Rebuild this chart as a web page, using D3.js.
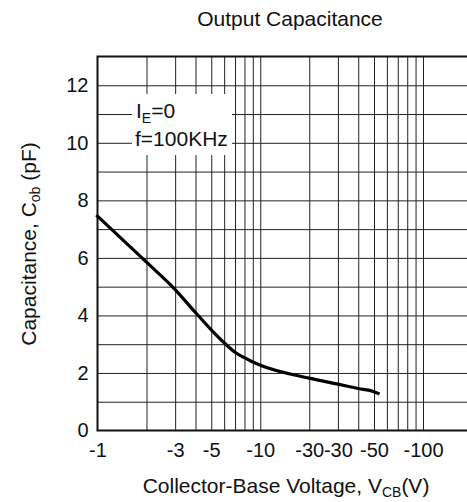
<!DOCTYPE html>
<html>
<head>
<meta charset="utf-8">
<script src="https://cdn.jsdelivr.net/npm/d3@7"></script>
<style>
  html, body { margin: 0; padding: 0; background: #fff; overflow: hidden; }
  svg { display: block; font-family: "Liberation Sans", Arial, sans-serif; }
</style>
</head>
<body>
<svg id="chart"></svg>
<script>
// curve (V_CB magnitude, C_ob in pF)
const voltage = [1, 2, 3, 4, 5, 6, 7, 8, 9, 10, 20, 30, 40, 50, 53];
const capacitance = [7.45, 5.85, 4.9, 4.1, 3.5, 3.05, 2.72, 2.53, 2.38, 2.27, 1.82, 1.61, 1.46, 1.35, 1.29];

const xTickValues = [1, 3, 5, 10, 20, 30, 50, 100];
const xTickLabels = ["-1", "-3", "-5", "-10", "-30", "-30", "-50", "-100"];
const xGridValues = [2, 3, 4, 5, 6, 7, 8, 9, 10, 20, 30, 40, 50, 60, 70, 80, 90, 100, 200];
const yTickValues = [0, 2, 4, 6, 8, 10, 12];
const yGridValues = [1, 2, 3, 4, 5, 6, 7, 8, 9, 10, 11, 12];

const width = 467, height = 502;
const plotLeft = 97.5, plotTop = 56.5, plotBottom = 430.5, plotRight = 480;

const svg = d3.select("#chart")
              .attr("width", width)
              .attr("height", height);

const x = d3.scaleLog()
            .domain([1, 100])
            .range([plotLeft, 423]);

const y = d3.scaleLinear()
            .domain([0, 13])
            .range([plotBottom, plotTop]);

// grid
svg.append("g")
   .attr("transform", `translate(0,${plotBottom})`)
   .call(d3.axisBottom(x).tickValues(xGridValues).tickSize(-(plotBottom - plotTop)).tickFormat(""))
   .call(g => g.select(".domain").remove())
   .call(g => g.selectAll("line").attr("stroke", "#222").attr("stroke-width", 1));

svg.append("g")
   .attr("transform", `translate(${plotLeft},0)`)
   .call(d3.axisLeft(y).tickValues(yGridValues).tickSize(-(plotRight - plotLeft)).tickFormat(""))
   .call(g => g.select(".domain").remove())
   .call(g => g.selectAll("line").attr("stroke", "#222").attr("stroke-width", 1));

// frame
svg.append("rect")
   .attr("x", plotLeft)
   .attr("y", plotTop)
   .attr("width", plotRight - plotLeft)
   .attr("height", plotBottom - plotTop)
   .attr("fill", "none")
   .attr("stroke", "#111")
   .attr("stroke-width", 2);

// note box over the grid
svg.append("rect")
   .attr("x", 132)
   .attr("y", 94)
   .attr("width", 100)
   .attr("height", 61)
   .attr("fill", "white");

const note1 = svg.append("text")
   .attr("x", 136)
   .attr("y", 117.5)
   .attr("font-size", 21)
   .attr("fill", "#111");
note1.append("tspan").text("I");
note1.append("tspan").attr("font-size", 14).attr("dy", 5).text("E");
note1.append("tspan").attr("dy", -5).text("=0");

svg.append("text")
   .attr("x", 135)
   .attr("y", 145.5)
   .attr("font-size", 21)
   .attr("fill", "#111")
   .text("f=100KHz");

// curve
const line = d3.line()
               .x((d, i) => x(voltage[i]))
               .y(d => y(d))
               .curve(d3.curveMonotoneX);

svg.append("path")
   .datum(capacitance)
   .attr("d", line)
   .attr("fill", "none")
   .attr("stroke", "#000")
   .attr("stroke-width", 3.2)
   .attr("stroke-linecap", "square");

// tick labels
svg.append("g")
   .attr("transform", `translate(0,${plotBottom})`)
   .call(d3.axisBottom(x).tickValues(xTickValues).tickSize(0).tickPadding(12)
           .tickFormat((d, i) => xTickLabels[i]))
   .call(g => g.select(".domain").remove())
   .call(g => g.selectAll("text").attr("font-size", 20).attr("font-family", null).attr("fill", "#111"));

svg.append("g")
   .attr("transform", `translate(${plotLeft},0)`)
   .call(d3.axisLeft(y).tickValues(yTickValues).tickSize(0).tickPadding(9))
   .call(g => g.select(".domain").remove())
   .call(g => g.selectAll("text").attr("font-size", 20).attr("font-family", null).attr("fill", "#111"));

// titles
svg.append("text")
   .attr("x", 290)
   .attr("y", 26)
   .attr("text-anchor", "middle")
   .attr("font-size", 21)
   .attr("fill", "#111")
   .text("Output Capacitance");

const xTitle = svg.append("text")
   .attr("x", 286)
   .attr("y", 493)
   .attr("text-anchor", "middle")
   .attr("font-size", 21)
   .attr("fill", "#111");
xTitle.append("tspan").text("Collector-Base Voltage, V");
xTitle.append("tspan").attr("font-size", 14).attr("dy", 4).text("CB");
xTitle.append("tspan").attr("dy", -4).text("(V)");

const yTitle = svg.append("text")
   .attr("transform", "translate(36,244) rotate(-90)")
   .attr("text-anchor", "middle")
   .attr("font-size", 21)
   .attr("fill", "#111");
yTitle.append("tspan").text("Capacitance, C");
yTitle.append("tspan").attr("font-size", 14).attr("dy", 4).text("ob");
yTitle.append("tspan").attr("dy", -4).text(" (pF)");
</script>
</body>
</html>
